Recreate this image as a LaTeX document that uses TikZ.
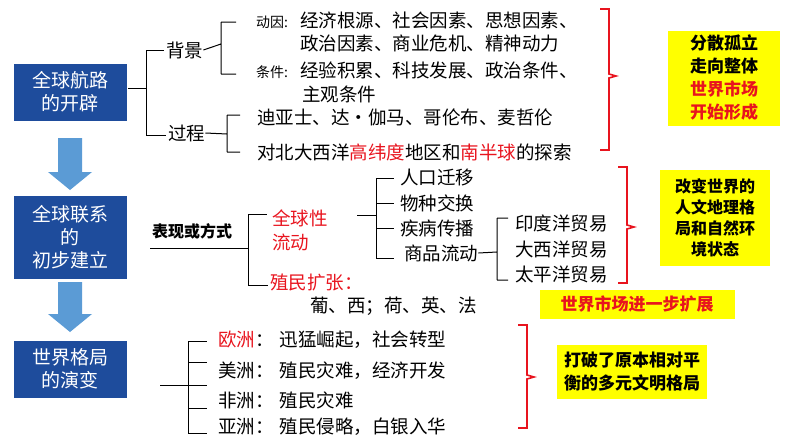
\documentclass[tikz,border=0pt]{standalone}
\usepackage{fontspec}
\setmainfont{Noto Sans CJK SC}
\usetikzlibrary{arrows.meta}
\definecolor{navy}{HTML}{1E4C9C}
\definecolor{sky}{HTML}{5B9BD5}
\definecolor{yel}{HTML}{FFFF00}
\definecolor{rd}{HTML}{E8141E}
\tikzset{
 bbox/.style={fill=navy,text=white,minimum width=113pt,align=center,font=\fontsize{19}{23}\selectfont,inner sep=2pt},
 tx/.style={anchor=west,inner sep=0pt,font=\fontsize{18.5}{21}\selectfont},
 ybox/.style={fill=yel,align=center,font=\fontsize{17}{23}\selectfont\bfseries,inner sep=4pt},
 ln/.style={line width=1pt},
 br/.style={draw=rd,line width=1.6pt},
 down/.style={fill=sky,draw=none}
}
\newcommand{\redbrace}[4]{\draw[br] (#1,#2) -- (#1+9,#2) -- (#1+9,#4-2) -- (#1+16,#4) -- (#1+9,#4+2) -- (#1+9,#3) -- (#1,#3);}
\begin{document}
\begin{tikzpicture}[x=1pt,y=-1pt]
\useasboundingbox (0,0) rectangle (794,447);
% blue boxes
\node[bbox,minimum height=57pt] (b1) at (70,92) {全球航路\\的开辟};
\node[bbox,minimum height=83pt] (b2) at (70,237) {全球联系\\的\\初步建立};
\node[bbox,minimum height=57pt] (b3) at (70,369) {世界格局\\的演变};
\fill[down] (58,138) -- (82,138) -- (82,172) -- (92,172) -- (70,190) -- (48,172) -- (58,172) -- cycle;
\fill[down] (58,282) -- (82,282) -- (82,314) -- (92,314) -- (70,332) -- (48,314) -- (58,314) -- cycle;
% section 1
\coordinate (t1) at (128,88);
\draw[ln] (t1) -- (146,88) (146,50) -- (146,135) (146,50) -- (164,50) (146,135) -- (166,135);
\node[tx] (bj) at (166,50) {背景};
\node[tx] (gc) at (168,133) {过程};
\draw[ln] (bj.east) -- (221,44) (221,22) -- (221,74) (221,22) -- (236,22) (221,74) -- (236,74);
\node[tx,font=\fontsize{14}{16}\selectfont] (dy) at (256,22) {动因:};
\node[tx] (d1) at (300,20) {经济根源、社会因素、思想因素、};
\node[tx] (d2) at (300,43) {政治因素、商业危机、精神动力};
\node[tx,font=\fontsize{14}{16}\selectfont] (tj) at (256,72) {条件:};
\node[tx] (c1) at (300,70) {经验积累、科技发展、政治条件、};
\node[tx] (c2) at (302,94) {主观条件};
\draw[ln] (gc.east) -- (227,134) (227,115) -- (227,152) (227,115) -- (240,115) (227,152) -- (240,152);
\node[tx] (p1) at (257,117) {迪亚士、达·伽马、哥伦布、麦哲伦};
\node[tx] (p2) at (257,152) {对北大西洋\textcolor{rd}{高纬度}地区和\textcolor{rd}{南半球}的探索};
\redbrace{600}{9}{150}{76}
\node[ybox,minimum width=112pt,minimum height=95pt] (y1) at (724,78) {分散孤立\\走向整体\\\textcolor{rd}{世界市场}\\\textcolor{rd}{开始形成}};
% section 2
\node[tx,font=\fontsize{16}{18}\selectfont\bfseries] (bx) at (152,231) {表现或方式};
\draw[ln] (150,248) -- (248,248) (248,214) -- (248,285) (248,214) -- (267,214) (248,285) -- (268,285);
\node[tx,text=rd,align=left,font=\fontsize{18.5}{24}\selectfont] (qq) at (272,230) {全球性\\流动};
\node[tx,text=rd] (zm) at (270,283) {殖民扩张：};
\node[tx] (gj) at (310,306) {葡、西；荷、英、法};
\draw[ln] (357,215) -- (376,215) (376,178) -- (376,258) \foreach \y in {178,203,228,258} {(376,\y) -- (394,\y)};
\node[tx] (r1) at (400,178) {人口迁移};
\node[tx] (r2) at (400,203) {物种交换};
\node[tx] (r3) at (400,228) {疾病传播};
\node[tx] (r4) at (404,253) {商品流动};
\draw[ln] (r4.east) -- (497,252) (497,218) -- (497,280) (497,218) -- (508,218) (497,280) -- (508,280);
\node[tx] (m1) at (515,223) {印度洋贸易};
\node[tx] (m2) at (515,249) {大西洋贸易};
\node[tx] (m3) at (515,274) {太平洋贸易};
\redbrace{618}{167}{283}{227}
\node[ybox,minimum width=110pt,minimum height=96pt,font=\fontsize{16}{21}\selectfont\bfseries] (y2) at (715,218) {改变世界的\\人文地理格\\局和自然环\\境状态};
\node[ybox,minimum width=195pt,minimum height=29pt,text=rd] (y3) at (637,304) {世界市场进一步扩展};
% section 3
\draw[ln] (160,385) -- (207,385) (188,341) -- (188,433) \foreach \y in {341,362,408,433} {(188,\y) -- (207,\y)};
\node[tx] (e1) at (218,340) {\textcolor{rd}{欧洲}：\hspace{6pt}迅猛崛起，社会转型};
\node[tx] (e2) at (218,371) {美洲：\hspace{6pt}殖民灾难，经济开发};
\node[tx] (e3) at (218,400) {非洲：\hspace{6pt}殖民灾难};
\node[tx] (e4) at (218,427) {亚洲：\hspace{6pt}殖民侵略，白银入华};
\redbrace{518}{325}{428}{377}
\node[ybox,minimum width=150pt,minimum height=54pt] (y4) at (632,372) {打破了原本相对平\\衡的多元文明格局};
\end{tikzpicture}
\end{document}
